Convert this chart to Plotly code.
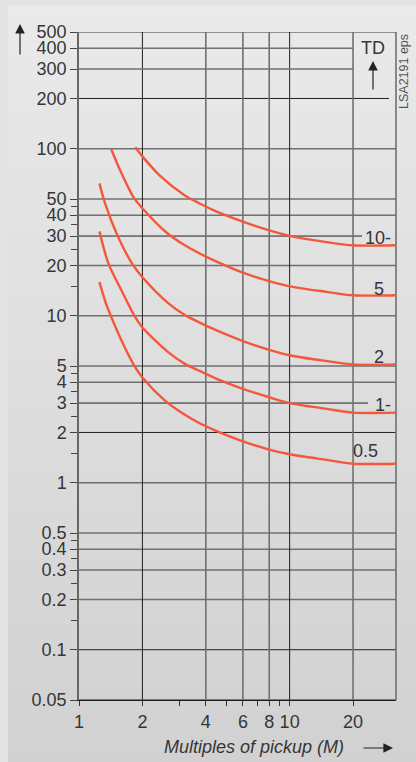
import math
import plotly.graph_objects as go

# Operating time vs. multiples of pickup (M), one curve per time-dial setting (TD)
td_names = ["10", "5", "2", "1", "0.5"]
m_td10 = [1.85, 2.0, 2.42, 3.18, 3.74, 4.42, 6.0, 8.0, 10.0, 15.0, 20.0, 32.0]
t_td10 = [102, 90, 69, 52.5, 47, 42.5, 36.6, 32.4, 30.1, 27.6, 26.4, 26.4]
m_td5 = [1.42, 1.57, 1.81, 2.0, 2.6, 3.18, 3.74, 4.42, 6.0, 8.0, 10.0, 15.0, 20.0, 32.0]
t_td5 = [100, 74, 51.5, 44, 31.5, 26.4, 23.6, 21.3, 18.1, 16.1, 15.0, 13.9, 13.25, 13.25]
m_td2 = [1.25, 1.33, 1.51, 1.8, 2.0, 2.65, 3.18, 3.74, 4.42, 6.0, 8.0, 10.0, 15.0, 20.0, 32.0]
t_td2 = [62, 47, 31, 20.2, 17, 11.9, 10.1, 9.1, 8.25, 7.05, 6.25, 5.8, 5.35, 5.1, 5.1]
m_td1 = [1.25, 1.38, 1.59, 1.84, 2.0, 2.65, 3.18, 3.74, 4.42, 6.0, 8.0, 10.0, 15.0, 20.0, 32.0]
t_td1 = [32, 20.5, 14.2, 9.9, 8.5, 6.05, 5.15, 4.67, 4.23, 3.65, 3.25, 3.0, 2.77, 2.63, 2.63]
m_td05 = [1.25, 1.35, 1.42, 1.6, 1.84, 2.0, 2.56, 3.18, 3.74, 4.42, 6.0, 8.0, 10.0, 15.0, 20.0, 32.0]
t_td05 = [15.9, 11.6, 9.9, 7.0, 4.95, 4.27, 3.1, 2.55, 2.27, 2.06, 1.77, 1.58, 1.48, 1.37, 1.3, 1.3]

curves = [(m_td10, t_td10), (m_td5, t_td5), (m_td2, t_td2), (m_td1, t_td1), (m_td05, t_td05)]
curve_labels = ["10-", "5", "2", "1-", "0.5"]

# Axis ticks
y_ticks = [0.05, 0.1, 0.2, 0.3, 0.4, 0.5, 1, 2, 3, 4, 5, 10, 20, 30, 40, 50, 100, 200, 300, 400, 500]
y_ticktext = ["0.05", "0.1", "0.2", "0.3", "0.4", "0.5", "1", "2", "3", "4", "5",
              "10", "20", "30", "40", "50", "100", "200", "300", "400", "500"]
y_minor = [0.15, 0.25, 0.35, 0.45, 1.5, 2.5, 3.5, 4.5, 15, 25, 35, 45]
x_ticks = [1, 2, 4, 6, 8, 10, 20]
x_ticktext = ["1", "2", "4", "6", "8", "10", "20"]
x_minor = [3, 5, 7, 9]

W, H = 416, 762
ML, MR, MT, MB = 79, 20, 32, 62
PW, PH = W - ML - MR, H - MT - MB


def px_x(px):
    return (px - ML) / PW


def px_y(py):
    return (H - MB - py) / PH


FONT = "Liberation Sans, Arial, Helvetica, sans-serif"
TXT = "#363636"
DARK = "#1f1f1f"
GRAY = "#707070"
RED = "#f4583a"
FS = 18

shapes = []

# panel with a soft vertical gradient
n_bands = 60
top_px, bot_px, left_px = 5, H, 8
c_top, c_bot = 234, 209
for i in range(n_bands):
    y0 = top_px + (bot_px - top_px) * i / n_bands
    y1 = top_px + (bot_px - top_px) * (i + 1) / n_bands + 0.6
    c = round(c_top + (c_bot - c_top) * (i + 0.5) / n_bands)
    shapes.append(dict(type="rect", xref="paper", yref="paper", layer="below",
                       x0=px_x(left_px), x1=px_x(W + 2), y0=px_y(y1), y1=px_y(y0),
                       fillcolor=f"rgb({c},{c},{c})", line=dict(width=0)))

# horizontal grid
dark_h = {0.05, 0.1, 2, 3, 30, 200}
for v in y_ticks:
    style = dict(color=DARK, width=1) if v in dark_h else dict(color=GRAY, width=1.6)
    if v in (300, 400):
        shapes.append(dict(type="line", xref="x", yref="y", layer="below",
                           x0=1, x1=20, y0=v, y1=v, line=style))
    else:
        end = {200: 389, 30: 362, 3: 368}.get(v, W - MR)
        shapes.append(dict(type="line", xref="paper", yref="y", layer="below",
                           x0=0, x1=px_x(end), y0=v, y1=v, line=style))

# vertical grid and right border
dark_v = {2, 10}
for v in x_ticks[1:]:
    style = dict(color=DARK, width=1) if v in dark_v else dict(color=GRAY, width=1.6)
    shapes.append(dict(type="line", xref="x", yref="paper", layer="below",
                       x0=v, x1=v, y0=0, y1=1, line=style))
shapes.append(dict(type="line", xref="paper", yref="paper", layer="below",
                   x0=1, x1=1, y0=0, y1=1, line=dict(color=GRAY, width=1.6)))

fig = go.Figure()
for (m, t), name in zip(curves, td_names):
    fig.add_trace(go.Scatter(x=m, y=t, mode="lines", name="TD " + name,
                             line=dict(color=RED, width=2.4, shape="spline", smoothing=0.8),
                             hoverinfo="skip"))

annotations = []
label_pos = [(378, 238), (379, 289), (379, 357), (383, 405), (365, 451)]
for txt, (px, py) in zip(curve_labels, label_pos):
    annotations.append(dict(text=txt, xref="paper", yref="paper", x=px_x(px), y=px_y(py),
                            showarrow=False, xanchor="center", yanchor="middle",
                            font=dict(family=FONT, size=FS, color=TXT)))

annotations += [
    dict(text="TD", xref="paper", yref="paper", x=px_x(373), y=px_y(48),
         showarrow=False, xanchor="center", yanchor="middle",
         font=dict(family=FONT, size=FS, color=TXT)),
    dict(text="", xref="paper", yref="paper", x=px_x(373), y=px_y(61),
         ax=0, ay=30, showarrow=True, arrowhead=2, arrowsize=1.6, arrowwidth=1.2,
         arrowcolor="#222"),
    dict(text="", xref="paper", yref="paper", x=px_x(20), y=px_y(24),
         ax=0, ay=32, showarrow=True, arrowhead=2, arrowsize=1.6, arrowwidth=1.2,
         arrowcolor="#222"),
    dict(text="LSA2191 eps", xref="paper", yref="paper", x=px_x(404), y=px_y(72),
         showarrow=False, textangle=-90, xanchor="center", yanchor="middle",
         font=dict(family=FONT, size=12.5, color="#555")),
    dict(text="<i>Multiples of pickup (M)</i>", xref="paper", yref="paper",
         x=px_x(254), y=px_y(747), showarrow=False, xanchor="center", yanchor="middle",
         font=dict(family=FONT, size=FS, color=TXT)),
    dict(text="", xref="paper", yref="paper", x=px_x(393), y=px_y(748),
         ax=-31, ay=0, showarrow=True, arrowhead=2, arrowsize=1.6, arrowwidth=1.2,
         arrowcolor="#222"),
]

fig.update_layout(
    width=W, height=H, autosize=False,
    margin=dict(l=ML, r=MR, t=MT, b=MB, pad=0),
    paper_bgcolor="#e3e3e3", plot_bgcolor="rgba(0,0,0,0)",
    showlegend=False, shapes=shapes, annotations=annotations,
    font=dict(family=FONT, size=FS, color=TXT),
    xaxis=dict(type="log", range=[0, 1.505], showgrid=False, zeroline=False,
               showline=True, linecolor=DARK, linewidth=1,
               ticks="outside", ticklen=5, tickwidth=1, tickcolor="#333",
               tickmode="array", tickvals=x_ticks, ticktext=x_ticktext,
               tickfont=dict(family=FONT, size=FS, color=TXT),
               minor=dict(tickmode="array", tickvals=x_minor, ticks="outside",
                          ticklen=5, tickwidth=1, tickcolor="#333", showgrid=False)),
    yaxis=dict(type="log", range=[math.log10(0.05), math.log10(500)], showgrid=False,
               zeroline=False, showline=True, linecolor="#666", linewidth=1.5,
               ticks="outside", ticklen=7, tickwidth=1.2, tickcolor="#444",
               tickmode="array", tickvals=y_ticks, ticktext=y_ticktext,
               tickfont=dict(family=FONT, size=FS, color=TXT),
               minor=dict(tickmode="array", tickvals=y_minor, ticks="outside",
                          ticklen=6, tickwidth=1.2, tickcolor="#444", showgrid=False)),
)

fig.write_html("out.html")
